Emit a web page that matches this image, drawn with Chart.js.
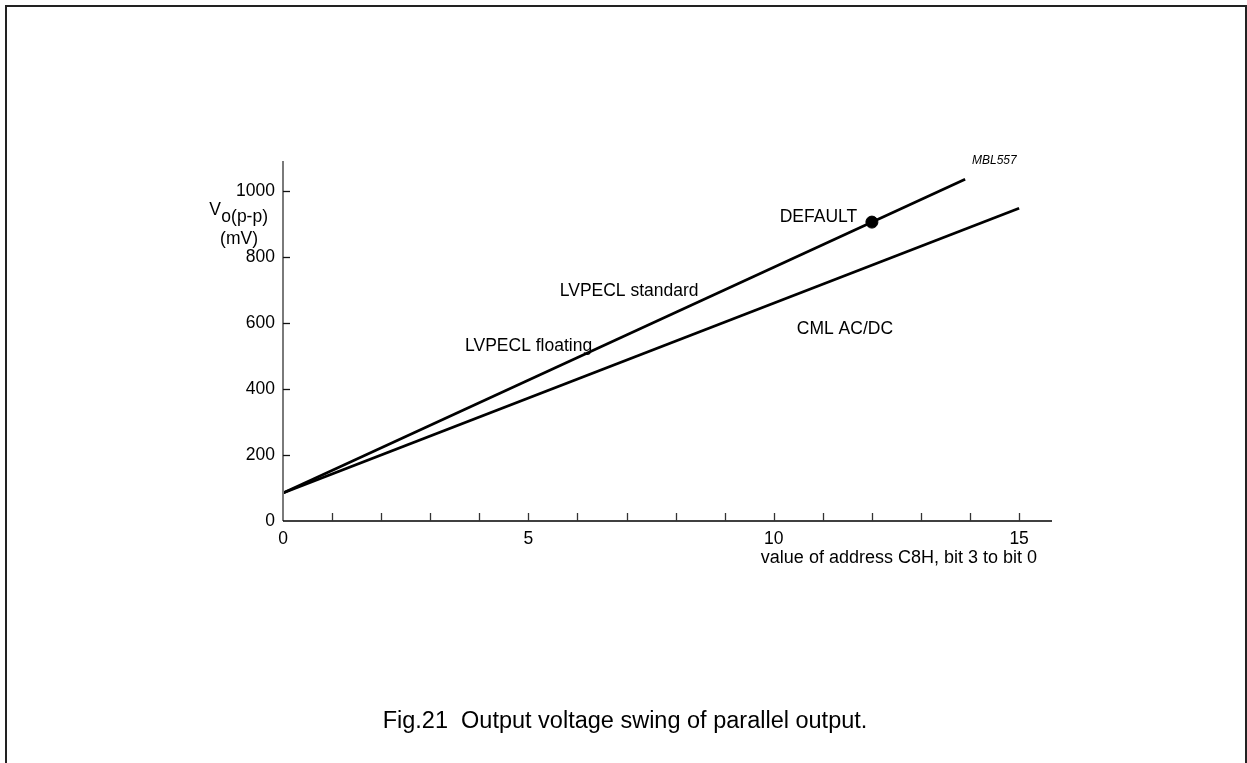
<!DOCTYPE html>
<html>
<head>
<meta charset="utf-8">
<script src="https://cdn.jsdelivr.net/npm/chart.js@4/dist/chart.umd.min.js"></script>
<style>
  html, body { margin: 0; padding: 0; background: #fff; overflow: hidden; }
  #frame { position: absolute; left: 5px; top: 5px; width: 1238px; height: 800px;
           border: 2px solid #222; border-bottom: none; }
  #chart1 { position: absolute; left: 0; top: 0; }
</style>
</head>
<body>
<div id="frame"></div>
<canvas id="chart1" width="1247" height="763"></canvas>
<script>
/************* data ********* */
const xTicks = [1, 2, 3, 4, 5, 6, 7, 8, 9, 10, 11, 12, 13, 14, 15];
const xLabels = [0, 5, 10, 15];
const yTicks = [0, 200, 400, 600, 800, 1000];

// LVPECL standard / floating line (same line)
const lvpeclX = [0, 13.9];
const lvpeclY = [85, 1035];
// CML AC/DC line
const cmlX = [0, 15];
const cmlY = [85, 947];
// default setting
const defaultX = [12];
const defaultY = [905];

const toPoints = (xs, ys) => xs.map((x, i) => ({x: x, y: ys[i]}));

const FONT = '"Liberation Sans", Arial, sans-serif';

/************* axes + text drawn on top ********* */
const plotExtras = {
    id: 'plotExtras',
    afterDatasetsDraw(chart) {
        const ctx = chart.ctx;
        const xs = chart.scales.x, ys = chart.scales.y;
        const a = chart.chartArea;
        ctx.save();
        // y axis
        ctx.strokeStyle = '#7a7a7a';
        ctx.lineWidth = 2;
        ctx.beginPath();
        ctx.moveTo(a.left, a.bottom);
        ctx.lineTo(a.left, a.top);
        ctx.stroke();
        ctx.lineWidth = 1.3;
        ctx.strokeStyle = '#111';
        yTicks.forEach(v => {
            if (v === 0) return;
            const py = Math.round(ys.getPixelForValue(v)) + 0.5;
            ctx.beginPath();
            ctx.moveTo(a.left, py);
            ctx.lineTo(a.left + 7, py);
            ctx.stroke();
        });
        // x axis
        ctx.lineWidth = 1.6;
        ctx.strokeStyle = '#000';
        ctx.beginPath();
        ctx.moveTo(a.left, a.bottom);
        ctx.lineTo(a.right, a.bottom);
        ctx.stroke();
        ctx.lineWidth = 1.3;
        ctx.strokeStyle = '#333';
        xTicks.forEach(v => {
            const px = Math.round(xs.getPixelForValue(v)) + 0.5;
            ctx.beginPath();
            ctx.moveTo(px, a.bottom);
            ctx.lineTo(px, a.bottom - 8);
            ctx.stroke();
        });

        // text labels
        ctx.fillStyle = '#000';
        ctx.textBaseline = 'middle';
        ctx.font = '17.5px ' + FONT;
        ctx.textAlign = 'left';
        ctx.fillText('LVPECL standard', xs.getPixelForValue(5.64), ys.getPixelForValue(695));
        ctx.fillText('LVPECL floating', xs.getPixelForValue(3.71), ys.getPixelForValue(528));
        ctx.fillText('CML AC/DC', xs.getPixelForValue(10.47), ys.getPixelForValue(580));
        ctx.textAlign = 'right';
        ctx.fillText('DEFAULT', xs.getPixelForValue(11.7), ys.getPixelForValue(920));
        ctx.textAlign = 'left';
        ctx.font = 'italic 12px ' + FONT;
        ctx.fillText('MBL557', xs.getPixelForValue(14.04), ys.getPixelForValue(1090));

        // y axis title
        ctx.font = '17.5px ' + FONT;
        ctx.textAlign = 'right';
        ctx.fillText('V', a.left - 62, ys.getPixelForValue(941));
        ctx.fillText('o(p-p)', a.left - 15, ys.getPixelForValue(920));
        ctx.fillText('(mV)', a.left - 25, ys.getPixelForValue(853));

        // x axis title
        ctx.font = '18px ' + FONT;
        ctx.fillText('value of address C8H, bit 3 to bit 0', a.right - 15, a.bottom + 37);

        // caption
        ctx.textAlign = 'center';
        ctx.font = '23.5px ' + FONT;
        ctx.fillText('Fig.21  Output voltage swing of parallel output.', 625, 722);
        ctx.restore();
    }
};

new Chart("chart1", {
    type: "line",
    data: {
        datasets: [{
            data: toPoints(lvpeclX, lvpeclY),
            borderColor: '#000',
            borderWidth: 2.7,
            pointRadius: 0,
            fill: false
        }, {
            data: toPoints(cmlX, cmlY),
            borderColor: '#000',
            borderWidth: 2.7,
            pointRadius: 0,
            fill: false
        }, {
            type: 'scatter',
            data: toPoints(defaultX, defaultY),
            backgroundColor: '#000',
            borderColor: '#000',
            pointRadius: 6
        }]
    },
    options: {
        responsive: false,
        animation: false,
        devicePixelRatio: 1,
        layout: { padding: { left: 0, top: 161, right: 195, bottom: 0 } },
        plugins: {
            legend: { display: false },
            tooltip: { enabled: false }
        },
        scales: {
            x: {
                type: 'linear',
                min: 0,
                max: 15.67,
                afterBuildTicks: s => { s.ticks = xLabels.map(v => ({value: v})); },
                afterFit: s => { s.height = 763 - 161 - 360; },
                grid: { display: false },
                border: { display: false },
                ticks: { color: '#000', font: { size: 17.5, family: FONT }, padding: 0, maxRotation: 0, autoSkip: false,
                         callback: v => String(v) }
            },
            y: {
                min: 0,
                max: 1090,
                afterBuildTicks: s => { s.ticks = yTicks.map(v => ({value: v})); },
                afterFit: s => { s.width = 283; },
                grid: { display: false },
                border: { display: false },
                ticks: { color: '#000', font: { size: 17.5, family: FONT }, padding: 0,
                         callback: v => String(v) }
            }
        }
    },
    plugins: [plotExtras]
});
</script>
</body>
</html>
